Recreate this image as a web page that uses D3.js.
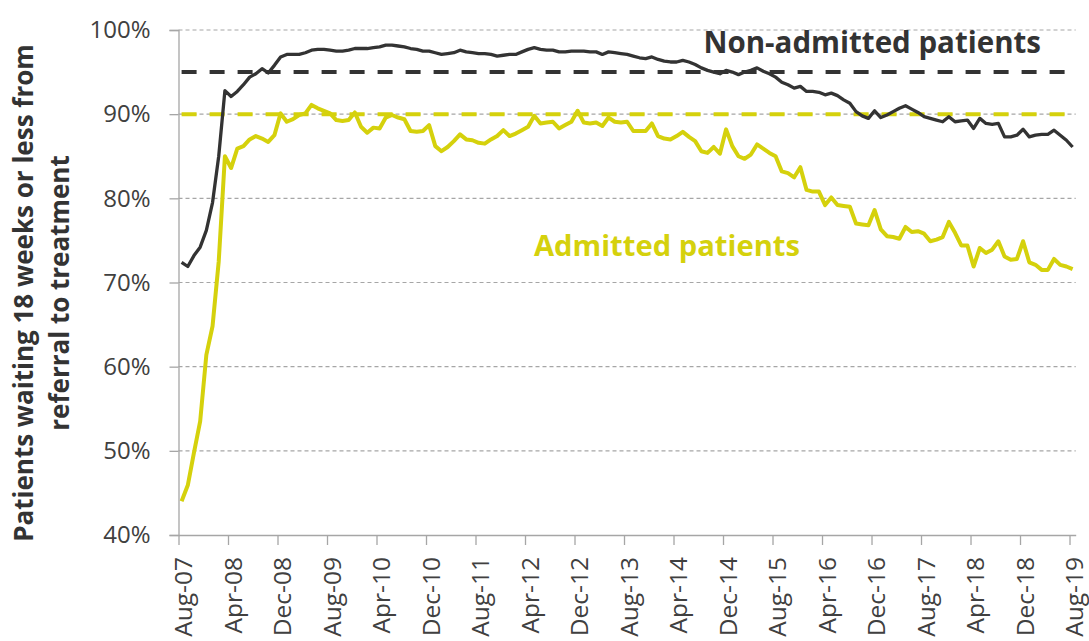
<!DOCTYPE html>
<html>
<head>
<meta charset="utf-8">
<script src="https://cdn.jsdelivr.net/npm/d3@7"></script>
<style>
  html, body { margin: 0; padding: 0; background: #fff; }
  svg { display: block; font-family: "Open Sans", "Noto Sans", sans-serif; }
</style>
</head>
<body>
<svg id="chart" width="1089" height="641"></svg>
<script>
// ---- Data ----
const startMonth = 7;   // August (0-based)
const startYear = 2007;
const monthCount = 145; // Aug-07 .. Aug-19
const monthNames = ["Jan","Feb","Mar","Apr","May","Jun","Jul","Aug","Sep","Oct","Nov","Dec"];
const categories = d3.range(monthCount).map(i => {
  const m = (startMonth + i) % 12;
  const y = startYear + Math.floor((startMonth + i) / 12);
  return monthNames[m] + "-" + String(y % 100).padStart(2, "0");
});

const tickLabels = ["Aug-07","Apr-08","Dec-08","Aug-09","Apr-10","Dec-10","Aug-11","Apr-12","Dec-12",
  "Aug-13","Apr-14","Dec-14","Aug-15","Apr-16","Dec-16","Aug-17","Apr-18","Dec-18","Aug-19"];

const yTicks = [40, 50, 60, 70, 80, 90, 100];

const nonAdmitted = [
  72.4, 71.9, 73.2, 74.2, 76.2, 79.5, 85.0, 92.8, 92.1, 92.7,
  93.5, 94.4, 94.8, 95.4, 94.9, 95.8, 96.8, 97.1, 97.1, 97.1,
  97.3, 97.6, 97.7, 97.7, 97.6, 97.5, 97.5, 97.6, 97.8, 97.8,
  97.8, 97.9, 98.0, 98.2, 98.2, 98.1, 98.0, 97.8, 97.7, 97.5,
  97.5, 97.3, 97.1, 97.2, 97.3, 97.6, 97.4, 97.3, 97.2, 97.2,
  97.1, 96.9, 97.0, 97.1, 97.1, 97.4, 97.7, 97.9, 97.7, 97.6,
  97.6, 97.4, 97.4, 97.5, 97.5, 97.5, 97.4, 97.4, 97.1, 97.4,
  97.3, 97.2, 97.1, 96.9, 96.7, 96.6, 96.8, 96.5, 96.3, 96.2,
  96.2, 96.4, 96.2, 95.9, 95.5, 95.2, 95.0, 94.8, 95.2, 95.0,
  94.7, 95.0, 95.2, 95.5, 95.1, 94.8, 94.4, 93.8, 93.5, 93.1,
  93.3, 92.7, 92.7, 92.6, 92.3, 92.5, 92.2, 91.7, 91.3, 90.3,
  89.8, 89.5, 90.4, 89.6, 89.9, 90.3, 90.7, 91.0, 90.6, 90.2,
  89.7, 89.5, 89.3, 89.1, 89.7, 89.1, 89.2, 89.3, 88.3, 89.5,
  88.9, 88.8, 88.9, 87.3, 87.3, 87.5, 88.2, 87.3, 87.5, 87.6,
  87.6, 88.1, 87.5, 86.9, 86.1
];

const admitted = [
  44.0, 45.9, 49.8, 53.5, 61.4, 64.8, 72.5, 85.0, 83.6, 85.9,
  86.2, 87.0, 87.4, 87.1, 86.7, 87.5, 90.1, 89.1, 89.4, 89.9,
  90.1, 91.1, 90.7, 90.4, 90.1, 89.3, 89.2, 89.3, 90.2, 88.5,
  87.8, 88.4, 88.3, 89.6, 89.9, 89.6, 89.4, 88.0, 87.9, 88.0,
  88.7, 86.2, 85.6, 86.1, 86.8, 87.6, 87.0, 86.9, 86.6, 86.5,
  87.0, 87.4, 88.1, 87.4, 87.7, 88.1, 88.5, 89.8, 88.9, 89.0,
  89.1, 88.3, 88.7, 89.1, 90.4, 89.0, 88.9, 89.0, 88.6, 89.6,
  89.1, 89.0, 89.1, 88.0, 88.0, 88.0, 88.9, 87.4, 87.1, 87.0,
  87.4, 87.9, 87.3, 86.8, 85.6, 85.4, 86.1, 85.3, 88.2, 86.2,
  85.0, 84.7, 85.2, 86.4, 85.9, 85.4, 85.0, 83.2, 83.0, 82.5,
  83.7, 81.0, 80.8, 80.8, 79.2, 80.1, 79.2, 79.1, 79.0, 77.0,
  76.9, 76.8, 78.6, 76.3, 75.5, 75.4, 75.2, 76.6, 76.0, 76.1,
  75.8, 74.9, 75.1, 75.4, 77.2, 75.9, 74.4, 74.4, 71.9, 74.1,
  73.5, 73.9, 74.9, 73.1, 72.7, 72.8, 74.9, 72.4, 72.1, 71.5,
  71.5, 72.8, 72.1, 71.9, 71.6
];

const nonAdmittedTarget = 95;
const admittedTarget = 90;

const seriesNames = ["Non-admitted patients", "Admitted patients"];
const yTitle = ["Patients waiting 18 weeks or less from", "referral to treatment"];

// ---- Layout ----
const svg = d3.select("#chart");
const plotLeft = 178.5, plotRight = 1075.7, plotTop = 30, plotBottom = 535;
const darkCol = "#333333";
const yellowCol = "#d5d10c";
const gridCol = "#a6a6a6";
const textCol = "#404040";

const x = d3.scaleLinear().domain([-0.5, monthCount - 0.5]).range([plotLeft, plotRight]);
const y = d3.scaleLinear().domain([40, 100]).range([plotBottom, plotTop]);

const labelIdx = tickLabels.map(l => categories.indexOf(l));

// gridlines
svg.append("g")
  .selectAll("line")
  .data(yTicks.filter(v => v > 40))
  .join("line")
  .attr("x1", plotLeft).attr("x2", plotRight)
  .attr("y1", d => y(d)).attr("y2", d => y(d))
  .attr("stroke", gridCol).attr("stroke-width", 1.2)
  .attr("stroke-dasharray", "4,3");

// y axis
const yAxis = svg.append("g")
  .attr("transform", `translate(${plotLeft},0)`)
  .call(d3.axisLeft(y).tickValues(yTicks).tickFormat(d => d + "%").tickSize(9).tickPadding(19));
yAxis.select(".domain").attr("stroke", gridCol).attr("stroke-width", 1.3);
yAxis.selectAll(".tick line").attr("stroke", gridCol).attr("stroke-width", 1.3);
yAxis.selectAll(".tick text")
  .attr("fill", textCol).style("font-size", "24px").style("font-family", "'Open Sans'");

// x axis (tick marks at category boundaries)
const xAxis = svg.append("g")
  .attr("transform", `translate(0,${plotBottom})`)
  .call(d3.axisBottom(x).tickValues(labelIdx.map(i => i - 0.5)).tickFormat(() => "").tickSize(10).tickSizeOuter(0));
xAxis.select(".domain").attr("stroke", gridCol).attr("stroke-width", 1.3);
xAxis.selectAll(".tick line").attr("stroke", gridCol).attr("stroke-width", 1.3);

// x labels (centered on categories)
svg.append("g")
  .selectAll("text")
  .data(labelIdx)
  .join("text")
  .attr("transform", d => `translate(${x(d) + 2},557) rotate(-90)`)
  .attr("text-anchor", "end")
  .attr("dy", "0.36em")
  .attr("fill", textCol)
  .style("font-size", "24.5px")
  .text(d => categories[d]);

// target dashed lines
const targetLine = (val, col) => svg.append("line")
  .attr("x1", x(0)).attr("x2", x(monthCount - 1))
  .attr("y1", y(val)).attr("y2", y(val))
  .attr("stroke", col).attr("stroke-width", 4)
  .attr("stroke-dasharray", "15,13");
targetLine(nonAdmittedTarget, darkCol);
targetLine(admittedTarget, yellowCol);

// series lines
const line = d3.line().x((d, i) => x(i)).y(d => y(d)).curve(d3.curveLinear);
svg.append("path").datum(admitted)
  .attr("d", line).attr("fill", "none")
  .attr("stroke", yellowCol).attr("stroke-width", 4).attr("stroke-linejoin", "round");
svg.append("path").datum(nonAdmitted)
  .attr("d", line).attr("fill", "none")
  .attr("stroke", darkCol).attr("stroke-width", 3.3).attr("stroke-linejoin", "round");

// series labels
svg.append("text")
  .attr("x", 1041).attr("y", 53)
  .attr("text-anchor", "end")
  .attr("fill", darkCol)
  .style("font-size", "29.5px").style("font-weight", "700")
  .text(seriesNames[0]);
svg.append("text")
  .attr("x", 800).attr("y", 256)
  .attr("text-anchor", "end")
  .attr("fill", yellowCol)
  .style("font-size", "29.2px").style("font-weight", "700")
  .text(seriesNames[1]);

// y title
svg.append("g")
  .selectAll("text")
  .data(yTitle)
  .join("text")
  .attr("transform", (d, i) => `translate(${33 + i * 36},293) rotate(-90)`)
  .attr("text-anchor", "middle")
  .attr("fill", darkCol)
  .style("font-size", "26px").style("font-weight", "700")
  .text(d => d);
</script>
</body>
</html>
